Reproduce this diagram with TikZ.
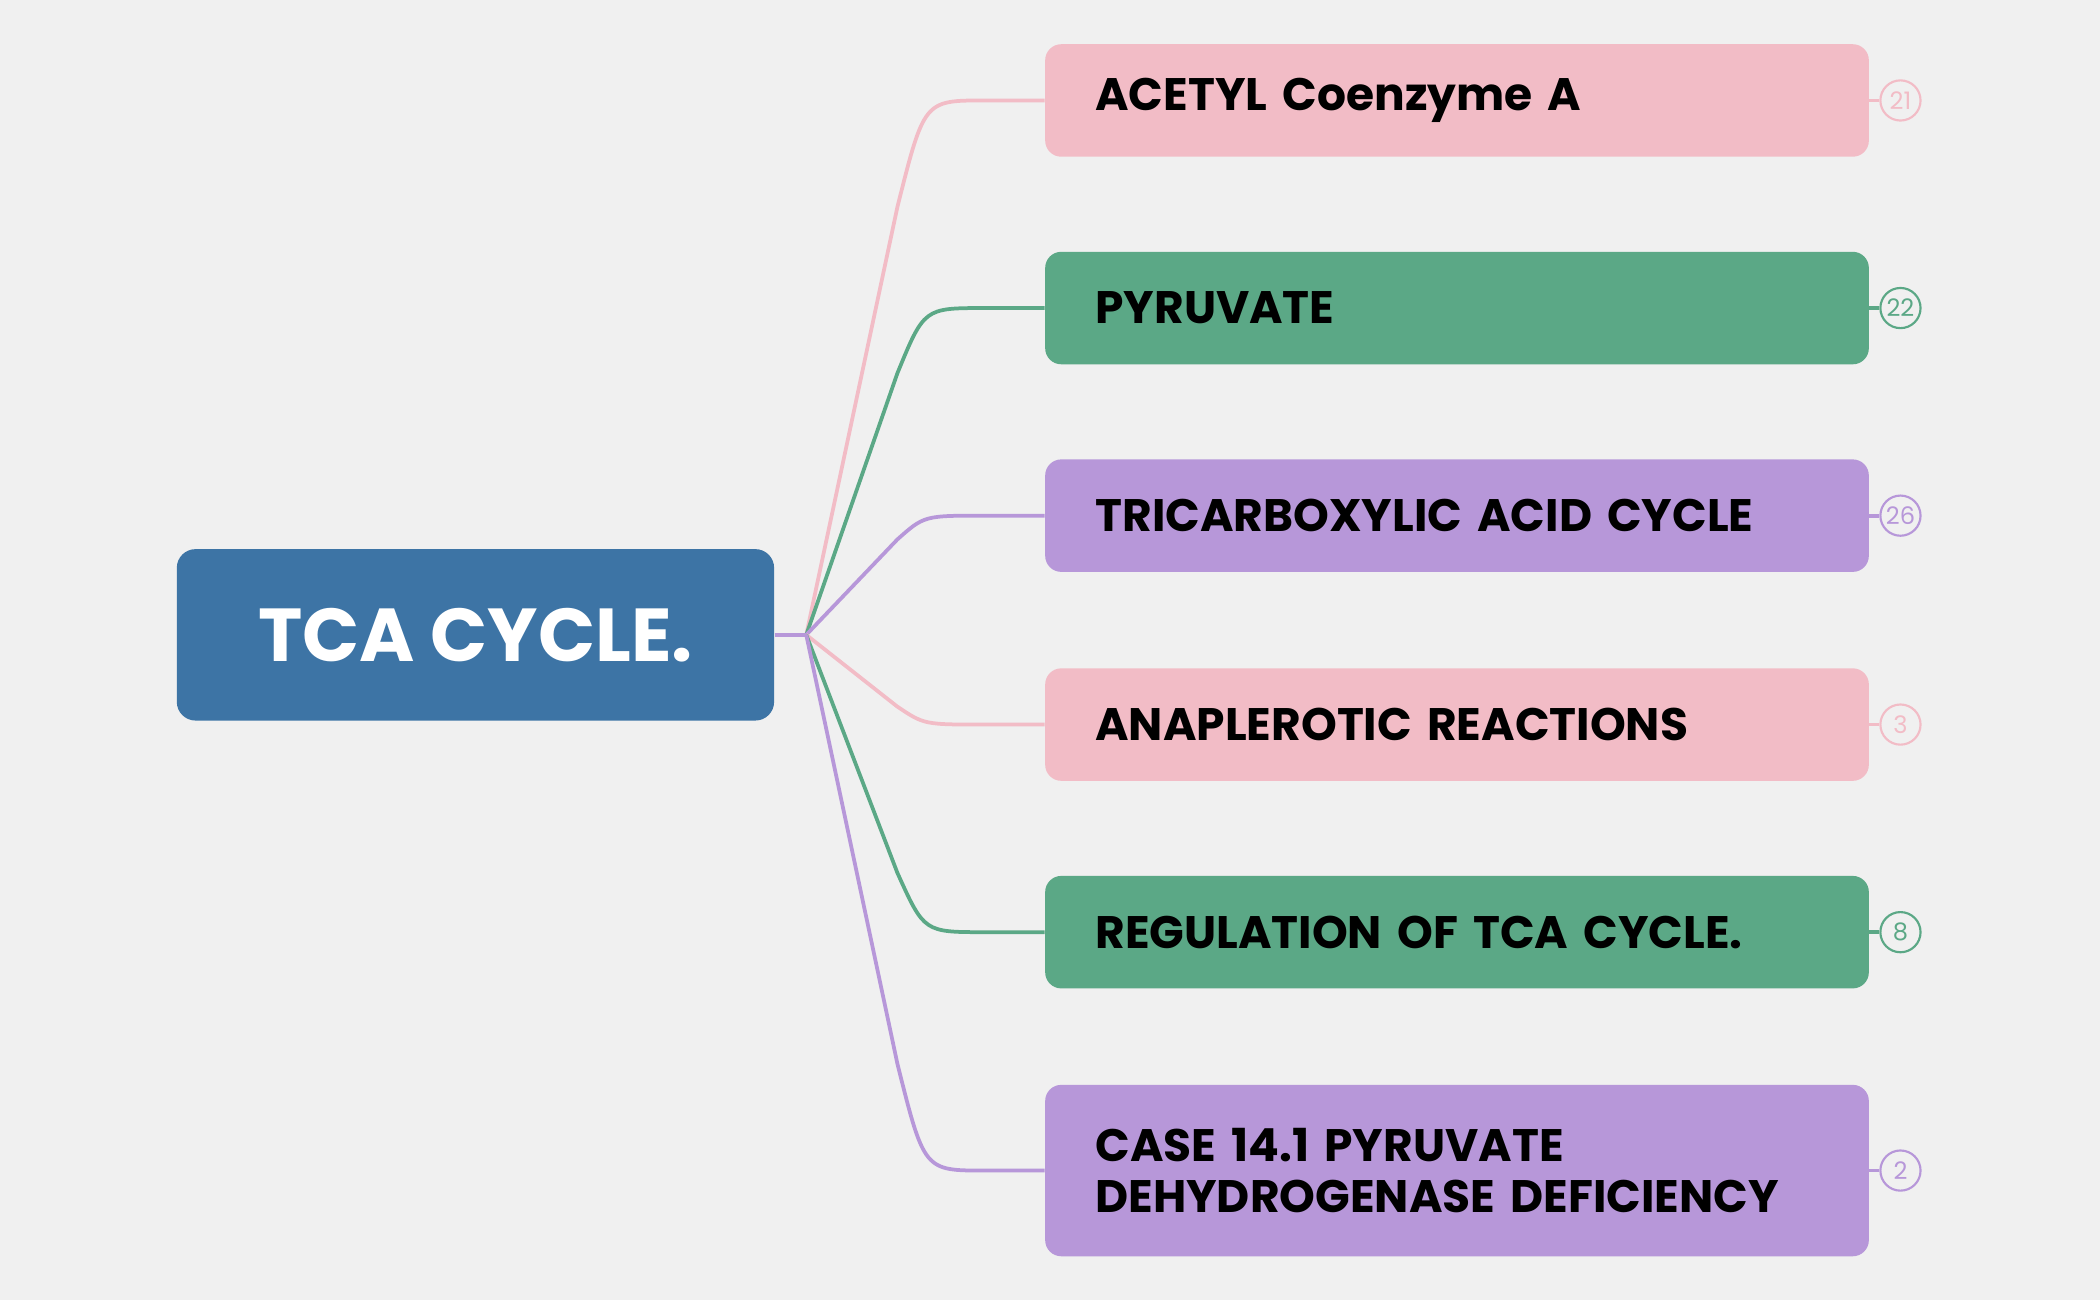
\documentclass[tikz,border=0pt]{standalone}
\usepackage{fontspec}
\setmainfont{Poppins}
\usetikzlibrary{calc}
\definecolor{bg}{HTML}{F0F0F0}
\definecolor{rootc}{HTML}{3D74A5}
\definecolor{pinkc}{HTML}{F2BCC6}
\definecolor{greenc}{HTML}{5BA886}
\definecolor{purpc}{HTML}{B797D9}
\tikzset{
 br/.style={rounded corners=6pt, fill=#1, minimum width=307.5pt, minimum height=42pt, anchor=west, text width=270pt, inner xsep=18.5pt, align=left, font=\fontsize{17}{19}\selectfont\bfseries, text=black},
 cnt/.style={circle, draw=#1, text=#1, line width=0.8pt, minimum size=15pt, inner sep=0pt, font=\fontsize{9}{9}\selectfont, fill=bg},
 con/.style={draw=#1, line width=1.4pt},
}
\begin{document}
\begin{tikzpicture}[x=0.5pt,y=-0.5pt]
\fill[bg] (0,0) rectangle (1568,971);
\useasboundingbox (0,0) rectangle (1568,971);
\node[rounded corners=7pt, fill=rootc, minimum width=223pt, minimum height=64pt, text=white, font=\fontsize{28}{30}\selectfont\bfseries] (root) at (355,474) {TCA CYCLE.};
\coordinate (hub) at (602,474);
\foreach \n/\y/\c/\t/\k in {a/75/pinkc/ACETYL Coenzyme A/21, b/230/greenc/PYRUVATE/22, c/385/purpc/TRICARBOXYLIC ACID CYCLE/26, d/541/pinkc/ANAPLEROTIC REACTIONS/3, e/696/greenc/REGULATION OF TCA CYCLE./8} {
  \node[br=\c] (\n) at (780,\y) {\t};
  \node[cnt=\c] (\n k) at (1419,\y) {\k};
  \draw[con=\c] (\n.east) -- (\n k);
  \draw[con=\c] (hub) -- (670,{\y+0.2*(474-\y)}) .. controls (690,\y) .. (735,\y) -- (\n.west);
}
\node[br=purpc, minimum height=64pt] (f) at (780,874) {CASE 14.1 PYRUVATE\\DEHYDROGENASE DEFICIENCY};
\node[cnt=purpc] (fk) at (1419,874) {2};
\draw[con=purpc] (f.east) -- (fk);
\draw[con=purpc] (hub) -- (670,794) .. controls (690,874) .. (735,874) -- (f.west);
\draw[con=purpc] (root.east) -- (hub);
\end{tikzpicture}
\end{document}
